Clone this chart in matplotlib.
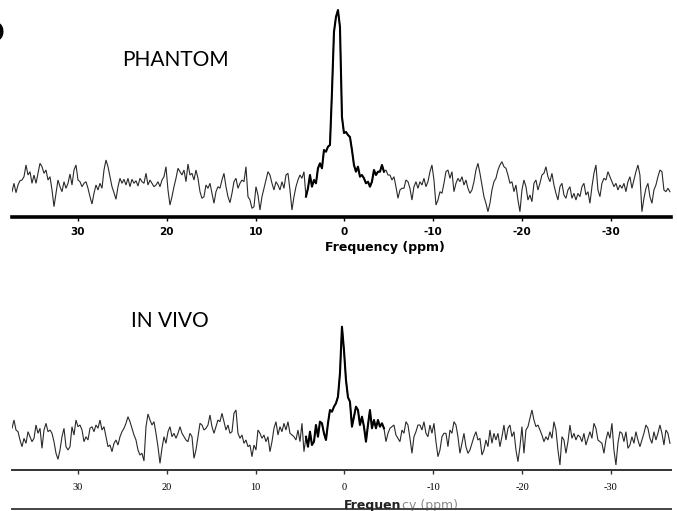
import numpy as np
import matplotlib
matplotlib.use("Agg")
import matplotlib.pyplot as plt

# ---------------- data ----------------
# frequency axis of both spectra (ppm), uniformly sampled
ppm_first = 37.43
ppm_last = -36.64

# PHANTOM spectrum intensity (a.u.), from left (high ppm) to right (low ppm)
phantom = [
    25.3, 33.7, 24.3, 32.0, 36.3, 37.0, 40.3, 52.0, 42.0, 45.3,
    33.7, 42.0, 33.7, 43.7, 53.7, 50.3, 43.7, 47.0, 37.0, 40.3,
    27.0, 10.3, 23.7, 37.0, 30.3, 25.3, 35.3, 28.7, 33.7, 43.0,
    32.0, 47.0, 52.0, 37.0, 35.3, 30.3, 33.7, 35.3, 28.7, 20.3,
    13.0, 23.7, 32.0, 27.0, 33.7, 28.7, 47.0, 57.0, 50.3, 40.3,
    30.3, 24.3, 17.7, 30.3, 38.7, 33.7, 37.7, 32.0, 38.7, 30.3,
    37.7, 33.7, 36.3, 31.0, 38.7, 35.3, 33.7, 43.7, 32.0, 37.0,
    33.7, 30.3, 32.0, 35.3, 30.3, 37.0, 40.3, 50.3, 27.0, 12.0,
    20.3, 30.3, 38.7, 48.7, 45.3, 42.0, 47.0, 35.3, 53.0, 42.0,
    43.7, 37.0, 47.0, 38.7, 25.3, 18.7, 20.3, 32.0, 28.7, 33.7,
    23.7, 13.7, 25.3, 30.3, 28.7, 37.0, 43.7, 30.3, 20.3, 14.3,
    23.7,
    35.3, 38.7, 28.7, 33.7, 37.0, 35.3, 50.3, 20.3, 17.0, 8.7,
    10.3, 30.3, 22.0, 7.0, 20.3, 28.7, 37.0, 45.3, 42.0, 33.7,
    27.0, 35.3, 32.0, 27.0, 35.3, 28.7, 42.0, 43.7, 27.0, 7.0,
    20.3, 30.3, 37.0, 42.0, 38.7, 45.3, 20.3, 28.7, 42.0, 30.3,
    37.0, 33.7, 48.7, 53.7, 48.7, 67.0, 65.3, 70.3, 72.0, 125.0,
    185.0, 200.0, 207.0, 190.0, 100.0, 84.0, 85.0, 82.0, 80.0, 67.0,
    52.0, 45.3, 50.3, 40.3, 42.0, 38.7, 33.7, 35.3, 30.3, 35.3,
    47.0, 42.0, 45.3, 45.3, 52.0, 45.3, 47.0, 42.0, 42.0, 37.0,
    40.3, 30.3, 18.7, 27.0, 28.7, 28.7, 37.0, 35.3, 28.7, 17.0,
    30.3, 35.3, 28.7, 35.3, 32.0, 38.7, 30.3, 35.3, 45.3, 52.0,
    37.0, 12.0, 17.0, 25.3, 23.7, 33.7, 45.3, 47.0, 38.7, 45.3,
    25.3,
    33.7, 38.7, 35.3, 40.3, 32.0, 37.0, 28.7, 23.7, 27.0, 35.3,
    47.0, 53.7, 43.7, 32.0, 20.3, 13.7, 5.3, 13.7, 27.0, 35.3,
    38.7, 47.0, 52.0, 55.3, 50.3, 48.7, 42.0, 33.7, 35.3, 25.3,
    32.0, 17.0, 5.3, 27.0, 37.0, 30.3, 17.0, 22.0, 15.3, 33.7,
    37.0, 27.0, 33.7, 42.0, 43.7, 50.3, 40.3, 35.3, 43.7, 32.0,
    23.7, 17.0, 30.3, 33.7, 22.0, 18.7, 27.0, 30.3, 18.7, 23.7,
    17.0, 23.7, 20.3, 30.3, 33.7, 22.0, 25.3, 13.7, 30.3, 43.7,
    52.0, 27.0, 20.3, 33.7, 38.7, 37.0, 45.3, 40.3, 35.3, 30.3,
    33.7, 27.0, 32.0, 28.7, 33.7, 25.3, 35.3, 40.3, 28.7, 37.0,
    45.3, 52.0, 42.0, 5.3, 18.7, 28.7, 33.7, 20.3, 13.7, 27.0,
    32.0, 40.3, 47.0, 45.3, 27.0, 25.3, 28.7, 25.3,
]

# IN VIVO spectrum intensity (a.u.)
invivo = [
    41.7, 50.0, 40.0, 38.3, 30.0, 23.3, 31.7, 26.7, 38.3, 33.3,
    28.3, 31.7, 45.0, 36.7, 41.7, 21.7, 40.0, 46.7, 38.3, 40.0,
    36.7, 28.3, 16.7, 10.7, 20.0, 33.3, 41.7, 23.3, 20.0, 23.3,
    43.3, 35.0, 50.0, 43.3, 45.0, 40.0, 28.3, 33.3, 30.0, 41.7,
    43.3, 38.3, 45.0, 41.7, 50.0, 40.0, 43.3, 33.3, 23.3, 25.0,
    18.3, 26.7, 30.0, 25.0, 33.3, 38.3, 41.7, 46.7, 53.3, 48.3,
    41.7, 35.0, 30.0, 20.0, 15.0, 16.7, 9.0, 43.3, 56.0, 50.0,
    45.0, 48.3, 36.7, 23.3, 6.7, 21.7, 33.3, 26.7, 38.3, 43.3,
    33.3, 36.7, 31.7, 36.7, 43.3, 36.7, 33.3, 30.0, 28.3, 36.7,
    33.3, 11.7, 20.0, 33.3, 46.7, 45.0, 40.0, 41.7, 45.0, 55.0,
    43.3, 36.7, 43.3, 50.0, 48.3, 56.7, 48.3, 40.0, 45.0, 36.7,
    38.3,
    56.7, 60.0, 36.7, 31.7, 35.0, 26.7, 30.0, 23.3, 25.0, 13.3,
    25.0, 20.0, 40.0, 36.7, 31.7, 35.0, 28.3, 33.3, 18.3, 28.3,
    41.7, 48.3, 35.0, 43.3, 38.3, 46.7, 40.0, 48.3, 36.7, 35.0,
    33.3, 30.0, 40.0, 28.3, 46.7, 18.3, 33.3, 23.3, 38.3, 25.0,
    28.3, 45.0, 33.3, 48.3, 46.7, 36.7, 30.0, 46.7, 60.0, 58.3,
    63.3, 66.7, 73.3, 96.7, 143.3, 120.0, 90.0, 72.7, 68.3, 43.3,
    53.3, 63.3, 60.0, 45.0, 53.3, 43.3, 28.3, 45.0, 60.0, 41.7,
    50.0, 41.7, 50.0, 43.3, 46.7, 41.7, 28.3, 36.7, 41.7, 43.3,
    45.0, 35.0, 31.7, 28.3, 40.0, 36.7, 48.3, 45.0, 31.7, 16.7,
    33.3, 38.3, 45.0, 45.0, 40.0, 48.3, 36.7, 33.3, 45.0, 36.7,
    46.7, 28.3, 13.3, 20.0, 33.3, 36.7, 36.7, 23.3, 40.0, 36.7,
    48.3,
    45.0, 33.3, 16.7, 26.7, 36.7, 23.3, 16.7, 20.0, 26.7, 33.3,
    38.3, 30.0, 31.7, 15.0, 20.0, 30.0, 23.3, 40.0, 26.7, 36.7,
    30.0, 36.7, 23.3, 33.3, 45.0, 30.0, 41.7, 45.0, 33.3, 38.3,
    20.0, 8.3, 23.3, 43.3, 16.7, 40.0, 43.3, 51.7, 60.0, 50.0,
    43.3, 45.0, 40.0, 35.0, 28.3, 33.3, 30.0, 38.3, 31.7, 48.3,
    40.0, 20.0, 5.0, 33.3, 30.0, 16.7, 28.3, 45.0, 31.7, 36.7,
    30.0, 35.0, 33.3, 28.3, 36.7, 25.0, 31.7, 38.3, 31.7, 46.7,
    41.7, 30.0, 28.3, 26.7, 16.7, 30.0, 38.3, 31.7, 46.7, 20.0,
    5.0, 26.7, 38.3, 36.7, 28.3, 38.3, 21.7, 25.0, 33.3, 26.7,
    38.3, 30.0, 23.3, 30.0, 36.7, 45.0, 41.7, 31.7, 26.7, 38.3,
    30.0, 36.7, 45.0, 36.7, 25.0, 40.0, 36.7, 26.7,
]

tick_values = [30, 20, 10, 0, -10, -20, -30]
tick_labels = ["30", "20", "10", "0", "-10", "-20", "-30"]
titles = ["PHANTOM", "IN VIVO"]
xlabel = "Frequency (ppm)"

# ---------------- figure ----------------
W, H = 677, 511
fig = plt.figure(figsize=(W / 100, H / 100), dpi=100)
fig.patch.set_facecolor("white")

def fx(px):
    return px / W

def fy(py):
    return 1 - py / H

xlim = (37.43, -36.76)
narrow = ["Liberation Sans Narrow", "DejaVu Sans"]

def draw(ax, values, lw_spine, spine_color, peak_lw):
    ppm = np.linspace(ppm_first, ppm_last, len(values))
    vals = np.asarray(values)
    ax.plot(ppm, vals, color="#2a2a2a", lw=0.8, solid_joinstyle="miter")
    m = (ppm < 4.5) & (ppm > -4.5)
    ax.plot(ppm[m], vals[m], color="black", lw=peak_lw)
    ax.set_xlim(*xlim)
    for s in ("top", "left", "right"):
        ax.spines[s].set_visible(False)
    ax.spines["bottom"].set_linewidth(lw_spine)
    ax.spines["bottom"].set_color(spine_color)
    ax.set_yticks([])
    ax.set_xticks(tick_values)
    ax.set_facecolor("none")

# top panel: axis line at py 217, 1 unit = 1 px
ax1 = fig.add_axes([fx(12), fy(217), fx(659), 217 / H])
draw(ax1, phantom, 2.6, "black", 1.5)
ax1.set_ylim(0, 217)
ax1.set_xticklabels(tick_labels, family=narrow, fontweight="bold", fontsize=7.5)
ax1.tick_params(axis="x", direction="out", length=3, width=1, pad=4, color="black")

# bottom panel: axis line at py 470
ax2 = fig.add_axes([fx(12), fy(470), fx(659), 170 / H])
draw(ax2, invivo, 1.4, "#333333", 1.5)
ax2.set_ylim(0, 170)
ax2.set_xticklabels(tick_labels, family=["Liberation Serif", "DejaVu Serif"], fontsize=7.5)
ax2.tick_params(axis="x", direction="out", length=3, width=1, pad=6, color="#333333")

# titles
fig.text(fx(175), fy(60), titles[0], ha="center", va="center",
         family=["Lato", "DejaVu Sans"], fontsize=15)
fig.text(fx(170), fy(321), titles[1], ha="center", va="center",
         family=["Lato", "DejaVu Sans"], fontsize=15)

# axis labels
fig.text(fx(385), fy(248), xlabel, ha="center", va="center",
         family=narrow, fontweight="bold", fontsize=9)
t1 = fig.text(fx(344), fy(509), xlabel[:7], ha="left", va="baseline",
              family=narrow, fontweight="bold", fontsize=9, color="#222222")
fig.text(fx(344), fy(509), "", ha="left")
ax2.annotate(xlabel[7:], xy=(1, 0), xycoords=t1, ha="left", va="bottom",
             family=narrow, fontsize=9, color="#8a8a8a")

# bottom rule line
fig.add_artist(plt.Line2D([fx(12), fx(671)], [fy(509), fy(509)],
                          transform=fig.transFigure, color="#444444", lw=1.4))

# panel letter, cut at the left edge
fig.text(fx(5), fy(34), "D", ha="right", va="center",
         fontweight="bold", fontsize=20, family=["DejaVu Sans"])

fig.savefig("out.png", dpi=100)
